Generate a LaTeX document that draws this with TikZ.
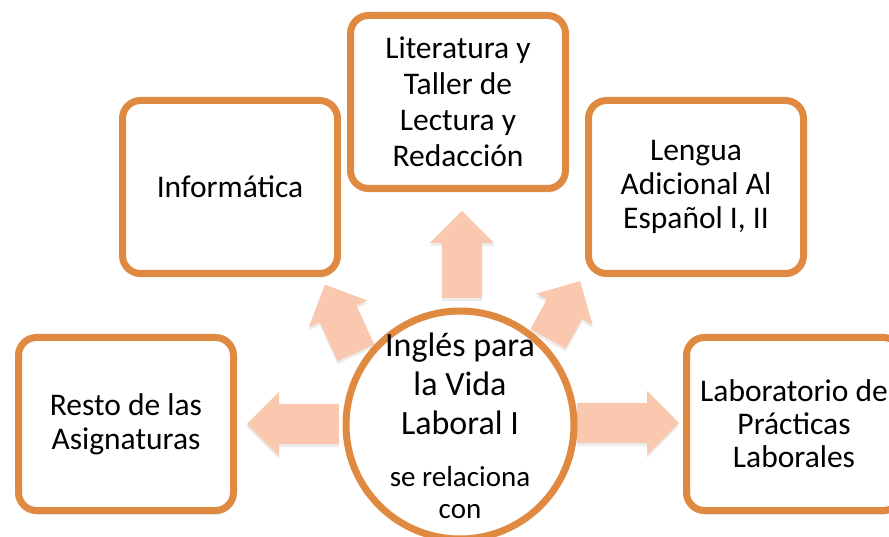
\documentclass[tikz,border=0pt]{standalone}
\usepackage{fontspec}
\setmainfont{Carlito}
\usetikzlibrary{shapes.arrows}
\usetikzlibrary{shadows}

\definecolor{boxline}{RGB}{224,137,65}
\definecolor{arrowfill}{RGB}{250,200,175}

\begin{document}
\begin{tikzpicture}[x=1pt, y=-1pt,
    subject/.style={draw=boxline, line width=7pt, fill=white, rounded corners=18pt,
        minimum width=215pt, minimum height=173pt, align=center,
        font=\fontsize{31.5}{34}\selectfont,
        drop shadow={opacity=0.25, shadow xshift=1pt, shadow yshift=-4pt}},
    hubstyle/.style={circle, draw=boxline, line width=7pt, fill=white, minimum size=228pt, inner sep=0pt},
    blockarrow/.style={single arrow, fill=arrowfill, draw=none, inner xsep=0pt, inner ysep=20pt,
        single arrow head extend=12pt, single arrow tip angle=90, anchor=tail,
        drop shadow={opacity=0.15, shadow xshift=0pt, shadow yshift=-3pt}}]
        \useasboundingbox (0,0) rectangle (889,537);
        \clip (0,0) rectangle (889,537);

        % outer boxes
        \node[subject] (resto) at (126,424) {Resto de las\\Asignaturas};
        \node[subject] (informatica) at (230,187) {Informática};
        \node[subject, font=\fontsize{31.5}{36}\selectfont] (literatura) at (458,102) {Literatura y\\Taller de\\Lectura y\\Redacción};
        \node[subject] (lengua) at (696,187) {Lengua\\Adicional Al\\Español I, II};
        \node[subject, font=\fontsize{31.5}{33}\selectfont] (laboratorio) at (794,424) {Laboratorio de\\Prácticas\\Laborales};

        % arrows (placed by their tails)
        \node[blockarrow, minimum height=87pt, rotate=90] (toliteratura) at (462,298) {};
        \node[blockarrow, minimum height=92pt, rotate=180] (toresto) at (339,424) {};
        \node[blockarrow, minimum height=102pt] (tolaboratorio) at (577,423) {};
        \node[blockarrow, minimum height=75pt, rotate=114.5] (toinformatica) at (356,353) {};
        \node[blockarrow, minimum height=66pt, rotate=61] (tolengua) at (548,339) {};

        % centre
        \node[hubstyle] (hub) at (460,425) {};
        \node[align=center, font=\fontsize{34}{39}\selectfont] (hubtitle) at (460,384) {Inglés para\\la Vida\\Laboral I};
        \node[align=center, font=\fontsize{29}{32}\selectfont] (hubnote) at (460,493) {se relaciona\\con};
    \end{tikzpicture}
\end{document}
